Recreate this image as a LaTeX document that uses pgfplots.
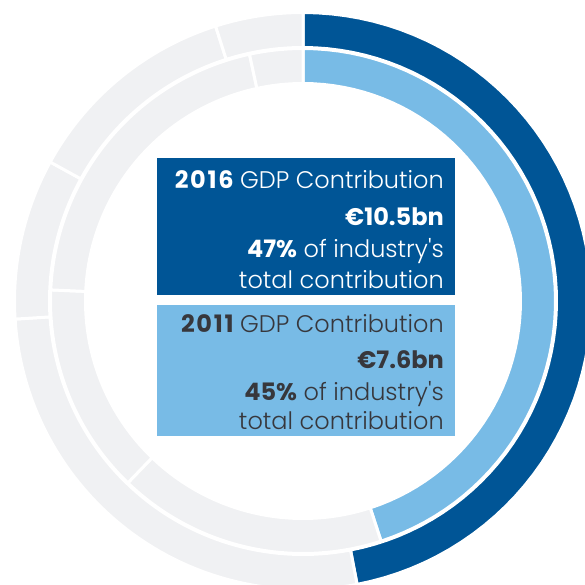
\documentclass[border=0pt]{standalone}
\usepackage{pgfplots}
\pgfplotsset{compat=1.18}
\usepackage{fontspec}
\setmainfont{Poppins}[UprightFont=* Light, BoldFont=* Bold, Ligatures=TeXOff]
\definecolor{dblue}{RGB}{0,85,150}
\definecolor{lblue}{RGB}{120,187,230}
\definecolor{lgrey}{RGB}{240,241,243}
\definecolor{txtdark}{RGB}{55,55,60}
\newcommand{\yr}[1]{{\bfseries\addfontfeature{LetterSpace=7}#1}}
% segment: start%, end%, outer radius, inner radius, colour
\newcommand{\seg}[5]{%
 \addplot[fill=#5, draw=white, line width=3pt, line join=miter, samples at={0,1,...,121}, variable=\k]
 ({(\k<=60 ? #3 : #4)*sin(3.6*(\k<=60 ? #1+(#2-#1)*\k/60 : #2-(#2-#1)*(\k-61)/60))},
  {(\k<=60 ? #3 : #4)*cos(3.6*(\k<=60 ? #1+(#2-#1)*\k/60 : #2-(#2-#1)*(\k-61)/60))}) -- cycle;
}
\begin{document}
\begin{tikzpicture}
\begin{axis}[x=1pt,y=1pt,xmin=-303,xmax=282,ymin=-283,ymax=301,hide axis,clip=true]
% outer ring (2016): 47, 27, 9, 12, 5
\seg{0}{47}{288.5}{253.5}{dblue}
\seg{47}{74}{288.5}{253.5}{lgrey}
\seg{74}{83}{288.5}{253.5}{lgrey}
\seg{83}{95.1}{288.5}{253.5}{lgrey}
\seg{95.1}{100}{288.5}{253.5}{lgrey}
% inner ring (2011): 45, 17.2, 13.5, 20.9, 3.4
\seg{0}{45}{252.5}{217.5}{lblue}
\seg{45}{62.2}{252.5}{217.5}{lgrey}
\seg{62.2}{75.7}{252.5}{217.5}{lgrey}
\seg{75.7}{96.6}{252.5}{217.5}{lgrey}
\seg{96.6}{100}{252.5}{217.5}{lgrey}
\fill[dblue] (axis cs:-146,143) rectangle (axis cs:152,6);
\fill[lblue] (axis cs:-146,-4) rectangle (axis cs:152,-135);
\begin{scope}[every node/.style={anchor=base east, inner sep=0pt, font=\fontsize{24}{28}\selectfont}]
\node[white] at (axis cs:141,112) {\yr{2016} GDP Contribution};
\node[white] at (axis cs:141,75) {\textbf{€10.5bn}};
\node[white] at (axis cs:141,43) {\textbf{47\%} of industry's};
\node[white] at (axis cs:141,13) {total contribution};
\node[txtdark] at (axis cs:141,-31) {\yr{2011} GDP Contribution};
\node[txtdark] at (axis cs:141,-67) {\textbf{€7.6bn}};
\node[txtdark] at (axis cs:141,-99) {\textbf{45\%} of industry's};
\node[txtdark] at (axis cs:141,-128) {total contribution};
\end{scope}
\end{axis}
\path (current axis.south west) rectangle (current axis.north east);
\end{tikzpicture}
\end{document}
